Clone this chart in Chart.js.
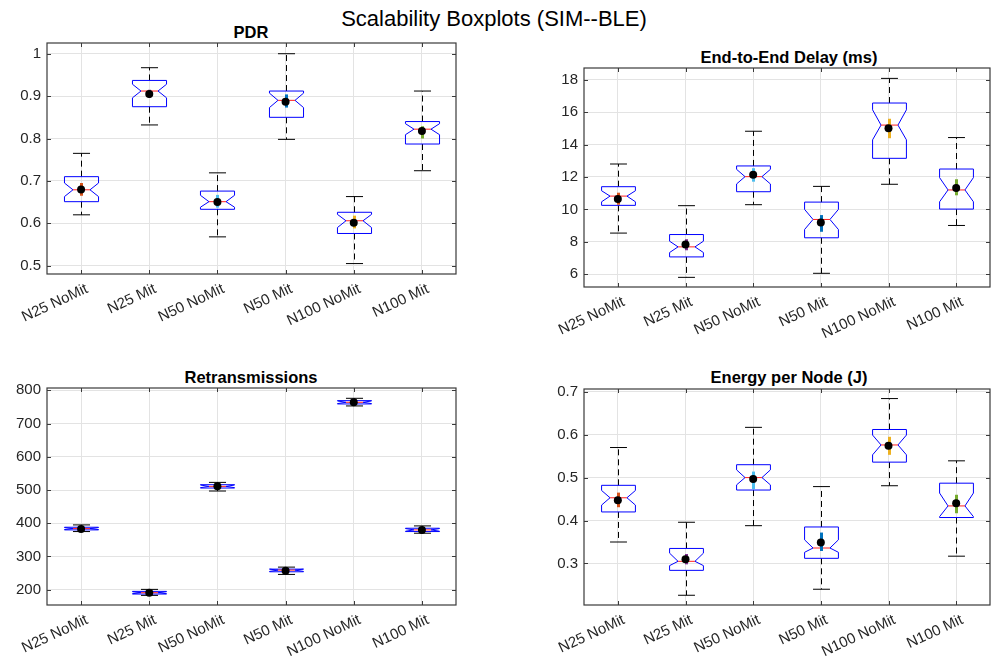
<!DOCTYPE html>
<html>
<head>
<meta charset="utf-8">
<title>Scalability Boxplots (SIM--BLE)</title>
<script src="https://cdn.jsdelivr.net/npm/chart.js@4.4.1/dist/chart.umd.min.js"></script>
<style>
  html, body { margin: 0; padding: 0; background: #fff; }
  #fig { position: relative; width: 994px; height: 663px; overflow: hidden;
         font-family: "Liberation Sans", Arial, sans-serif; color: #000; }
  canvas { position: absolute; }
  .title { position: absolute; transform: translate(-50%, -50%); white-space: nowrap; }
  .sub { font-weight: bold; font-size: 16.5px; }
  #suptitle { font-size: 22px; }
</style>
</head>
<body>
<div id="fig">
  <div id="suptitle" class="title" style="left:494px; top:19px">Scalability Boxplots (SIM--BLE)</div>
  <div class="title sub" style="left:251px; top:32px">PDR</div>
  <div class="title sub" style="left:789px; top:57px">End-to-End Delay (ms)</div>
  <div class="title sub" style="left:251px; top:377px">Retransmissions</div>
  <div class="title sub" style="left:789px; top:377px">Energy per Node (J)</div>

  <canvas id="cPdr"    width="480" height="335" style="left:0;     top:10px"></canvas>
  <canvas id="cDelay"  width="497" height="315" style="left:497px; top:30px"></canvas>
  <canvas id="cRetx"   width="480" height="313" style="left:0;     top:350px"></canvas>
  <canvas id="cEnergy" width="497" height="313" style="left:497px; top:350px"></canvas>
</div>

<script>
// ---- data ----
const categories  = ["N25 NoMit", "N25 Mit", "N50 NoMit", "N50 Mit", "N100 NoMit", "N100 Mit"];
const groupColors = ["#D95319", "#7E2F8E", "#4DBEEE", "#0072BD", "#EDB120", "#77AC30"];

// PDR
const pdrWhiskerLow  = [0.620, 0.832, 0.568, 0.798, 0.505, 0.724];
const pdrQ1          = [0.651, 0.875, 0.633, 0.850, 0.576, 0.787];
const pdrNotchLow    = [0.663, 0.896, 0.638, 0.873, 0.590, 0.809];
const pdrMedian      = [0.679, 0.912, 0.651, 0.890, 0.606, 0.822];
const pdrNotchHigh   = [0.695, 0.928, 0.666, 0.907, 0.621, 0.835];
const pdrQ3          = [0.710, 0.937, 0.676, 0.912, 0.626, 0.840];
const pdrWhiskerHigh = [0.765, 0.967, 0.719, 1.000, 0.663, 0.912];
const pdrMean        = [0.680, 0.905, 0.650, 0.887, 0.601, 0.818];
const pdrCiLow       = [0.665, 0.896, 0.637, 0.873, 0.588, 0.800];
const pdrCiHigh      = [0.695, 0.915, 0.667, 0.904, 0.618, 0.829];
const pdrTicks       = [0.5, 0.6, 0.7, 0.8, 0.9, 1];

// End-to-end delay (ms)
const delayWhiskerLow  = [8.54, 5.81, 10.29, 6.06, 11.55, 9.01];
const delayQ1          = [10.25, 7.07, 11.09, 8.25, 13.15, 10.02];
const delayNotchLow    = [10.47, 7.34, 11.57, 8.76, 14.29, 10.47];
const delayMedian      = [10.82, 7.69, 12.02, 9.38, 15.20, 11.20];
const delayNotchHigh   = [11.15, 8.04, 12.47, 10.00, 16.14, 11.96];
const delayQ3          = [11.40, 8.45, 12.68, 10.45, 16.56, 12.49];
const delayWhiskerHigh = [12.80, 10.23, 14.82, 11.42, 18.08, 14.43];
const delayMean        = [10.64, 7.84, 12.14, 9.20, 15.01, 11.32];
const delayCiLow       = [10.29, 7.48, 11.71, 8.62, 14.39, 10.87];
const delayCiHigh      = [11.03, 8.16, 12.54, 9.65, 15.59, 11.86];
const delayTicks       = [6, 8, 10, 12, 14, 16, 18];

// Retransmissions
const retxWhiskerLow  = [375, 183, 497, 246, 753, 370];
const retxQ1          = [380, 187, 506, 254, 759, 375];
const retxNotchLow    = [381, 188, 507, 255, 760, 376];
const retxMedian      = [384, 191, 511, 259, 764, 380];
const retxNotchHigh   = [387, 194, 515, 262, 768, 384];
const retxQ3          = [388, 195, 516, 262, 769, 385];
const retxWhiskerHigh = [395, 201, 523, 268, 776, 392];
const retxMean        = [383, 191, 511, 257, 764, 380];
const retxCiLow       = [381, 189, 509, 255, 762, 378];
const retxCiHigh      = [385, 193, 513, 259, 766, 382];
const retxTicks       = [200, 300, 400, 500, 600, 700, 800];

// Energy per node (J)
const energyWhiskerLow  = [0.350, 0.226, 0.388, 0.240, 0.481, 0.317];
const energyQ1          = [0.420, 0.284, 0.471, 0.312, 0.536, 0.407];
const energyNotchLow    = [0.436, 0.295, 0.483, 0.326, 0.553, 0.409];
const energyMedian      = [0.453, 0.305, 0.500, 0.336, 0.576, 0.434];
const energyNotchHigh   = [0.470, 0.324, 0.518, 0.355, 0.599, 0.464];
const energyQ3          = [0.482, 0.335, 0.530, 0.385, 0.612, 0.487];
const energyWhiskerHigh = [0.570, 0.396, 0.617, 0.479, 0.684, 0.539];
const energyMean        = [0.447, 0.310, 0.497, 0.349, 0.574, 0.440];
const energyCiLow       = [0.431, 0.298, 0.473, 0.329, 0.553, 0.417];
const energyCiHigh      = [0.465, 0.322, 0.514, 0.372, 0.595, 0.460];
const energyTicks       = [0.3, 0.4, 0.5, 0.6, 0.7];

// ---- styling ----
const FONT_FAMILY = "'Liberation Sans', Arial, sans-serif";
const TICK_FONT   = { family: FONT_FAMILY, size: 15 };
const TICK_COLOR  = "#262626";
const GRID_COLOR  = "#e3e3e3";
const FRAME_COLOR = "#3a3a3a";

/* Draws the MATLAB-style notched boxes, whiskers, CI bars and the axes frame. */
function notchedBoxPlugin(s) {
  return {
    id: "notchedBoxes",
    beforeDatasetsDraw(chart) {
      const { ctx, chartArea: a, scales: { x, y } } = chart;
      const step = x.getPixelForValue(1) - x.getPixelForValue(0);
      const half = step / 4;
      const inset = half / 2;
      const cap = half / 2;
      const py = (v) => y.getPixelForValue(v);
      const seg = (x1, y1, x2, y2) => { ctx.beginPath(); ctx.moveTo(x1, y1); ctx.lineTo(x2, y2); ctx.stroke(); };

      ctx.save();
      // frame + inward ticks
      ctx.strokeStyle = FRAME_COLOR;
      ctx.lineWidth = 1.2;
      ctx.strokeRect(a.left, a.top, a.right - a.left, a.bottom - a.top);
      ctx.lineWidth = 1;
      y.ticks.forEach((t) => {
        const ty = Math.round(py(t.value)) + 0.5;
        seg(a.left, ty, a.left + 4, ty);
        seg(a.right - 4, ty, a.right, ty);
      });
      categories.forEach((c, i) => {
        const tx = Math.round(x.getPixelForValue(i)) + 0.5;
        seg(tx, a.bottom, tx, a.bottom - 4);
        seg(tx, a.top, tx, a.top + 4);
      });

      s.median.forEach((m, i) => {
        const cx = Math.round(x.getPixelForValue(i)) + 0.5;
        const l = cx - half, r = cx + half;

        // whiskers
        ctx.strokeStyle = "#000";
        ctx.lineWidth = 1;
        ctx.setLineDash([6, 4]);
        seg(cx, py(s.q3[i]), cx, py(s.whiskerHigh[i]));
        seg(cx, py(s.q1[i]), cx, py(s.whiskerLow[i]));
        ctx.setLineDash([]);
        seg(cx - cap, py(s.whiskerHigh[i]), cx + cap, py(s.whiskerHigh[i]));
        seg(cx - cap, py(s.whiskerLow[i]), cx + cap, py(s.whiskerLow[i]));

        // notched box
        ctx.strokeStyle = "#0000ff";
        ctx.beginPath();
        ctx.moveTo(l, py(s.q3[i]));
        ctx.lineTo(r, py(s.q3[i]));
        ctx.lineTo(r, py(s.notchHigh[i]));
        ctx.lineTo(r - inset, py(m));
        ctx.lineTo(r, py(s.notchLow[i]));
        ctx.lineTo(r, py(s.q1[i]));
        ctx.lineTo(l, py(s.q1[i]));
        ctx.lineTo(l, py(s.notchLow[i]));
        ctx.lineTo(l + inset, py(m));
        ctx.lineTo(l, py(s.notchHigh[i]));
        ctx.closePath();
        ctx.stroke();

        // median
        ctx.strokeStyle = "#ff2020";
        seg(l + inset, py(m), r - inset, py(m));

        // confidence bar around the mean
        ctx.strokeStyle = groupColors[i];
        ctx.lineWidth = 3;
        seg(cx, py(s.ciLow[i]), cx, py(s.ciHigh[i]));
        ctx.lineWidth = 1;
      });
      ctx.restore();
    },
  };
}

function makePanel(canvasId, stats, yMin, yMax, yTicks, pad, yAxisWidth, xAxisHeight) {
  const ctx = document.getElementById(canvasId).getContext("2d");
  return new Chart(ctx, {
    type: "line",
    data: {
      labels: categories,
      datasets: [{
        data: stats.mean,
        showLine: false,
        pointRadius: 4,
        pointHoverRadius: 4,
        pointBackgroundColor: "#000",
        pointBorderWidth: 0,
      }],
    },
    options: {
      responsive: false,
      animation: false,
      events: [],
      layout: { padding: { top: pad.top, right: pad.right, left: 0, bottom: 0 } },
      plugins: { legend: { display: false }, tooltip: { enabled: false } },
      scales: {
        x: {
          type: "category",
          offset: true,
          grid: { offset: false, color: GRID_COLOR, drawTicks: false },
          border: { display: false },
          ticks: {
            font: TICK_FONT, color: TICK_COLOR, minRotation: 25, maxRotation: 25,
            autoSkip: false, padding: 6, labelOffset: 6,
          },
          afterFit: (sc) => { sc.height = xAxisHeight; },
        },
        y: {
          type: "linear",
          min: yMin,
          max: yMax,
          grid: { color: GRID_COLOR, drawTicks: false },
          border: { display: false },
          ticks: { font: TICK_FONT, color: TICK_COLOR, padding: 6, callback: (v) => String(+Number(v).toFixed(3)) },
          afterBuildTicks: (sc) => { sc.ticks = yTicks.map((v) => ({ value: v })); },
          afterFit: (sc) => { sc.width = yAxisWidth; },
        },
      },
    },
    plugins: [notchedBoxPlugin(stats)],
  });
}

makePanel("cPdr", {
  whiskerLow: pdrWhiskerLow, q1: pdrQ1, notchLow: pdrNotchLow, median: pdrMedian, notchHigh: pdrNotchHigh,
  q3: pdrQ3, whiskerHigh: pdrWhiskerHigh, mean: pdrMean, ciLow: pdrCiLow, ciHigh: pdrCiHigh,
}, 0.4804, 1.0253, pdrTicks, { top: 33, right: 24 }, 47, 71);

makePanel("cDelay", {
  whiskerLow: delayWhiskerLow, q1: delayQ1, notchLow: delayNotchLow, median: delayMedian, notchHigh: delayNotchHigh,
  q3: delayQ3, whiskerHigh: delayWhiskerHigh, mean: delayMean, ciLow: delayCiLow, ciHigh: delayCiHigh,
}, 5.215, 18.72, delayTicks, { top: 38, right: 1 }, 87, 58);

makePanel("cRetx", {
  whiskerLow: retxWhiskerLow, q1: retxQ1, notchLow: retxNotchLow, median: retxMedian, notchHigh: retxNotchHigh,
  q3: retxQ3, whiskerHigh: retxWhiskerHigh, mean: retxMean, ciLow: retxCiLow, ciHigh: retxCiHigh,
}, 154, 807, retxTicks, { top: 38, right: 24 }, 47, 58);

makePanel("cEnergy", {
  whiskerLow: energyWhiskerLow, q1: energyQ1, notchLow: energyNotchLow, median: energyMedian, notchHigh: energyNotchHigh,
  q3: energyQ3, whiskerHigh: energyWhiskerHigh, mean: energyMean, ciLow: energyCiLow, ciHigh: energyCiHigh,
}, 0.2033, 0.7063, energyTicks, { top: 39, right: 1 }, 87, 58);
</script>
</body>
</html>
